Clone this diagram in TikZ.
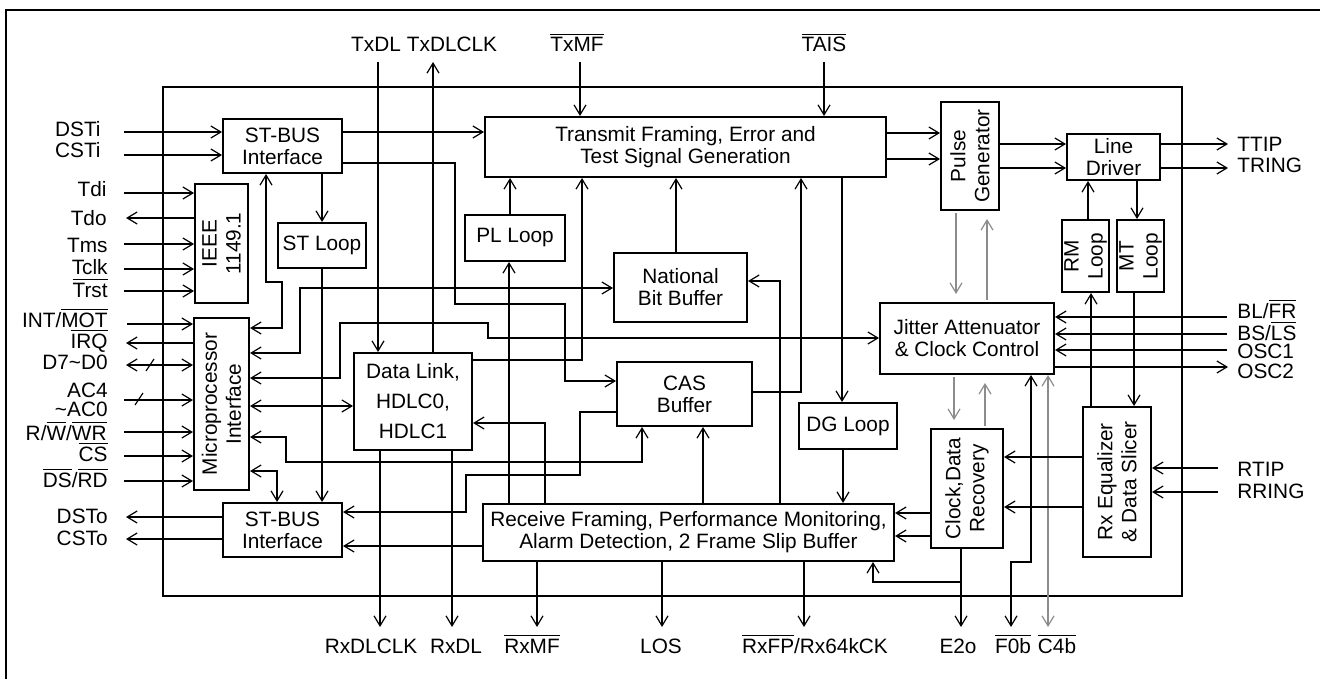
\documentclass[tikz,border=0pt]{standalone}
\usepackage{fontspec}
\setmainfont{Liberation Sans}
\usepackage{xcolor}
\definecolor{ink}{HTML}{000000}
\definecolor{mgray}{HTML}{8C8C8C}
\usetikzlibrary{arrows.meta}
\newcommand{\ovl}[1]{$\overline{\mbox{#1}}$}
\tikzset{
    block/.style = {rectangle, draw=ink, line width=1pt, inner sep=0pt, align=center,
                    font=\fontsize{10.4}{11}\selectfont},
    vtext/.style = {rotate=90, align=center, inner sep=0pt,
                    font=\fontsize{10.4}{12}\selectfont},
    pin/.style = {inner sep=0pt, font=\fontsize{10.4}{11}\selectfont},
    arrow/.style = {-{Straight Barb[length=5pt,width=6pt,line width=0.6pt]}, line width=1pt, color=ink},
    biarrow/.style = {{Straight Barb[length=5pt,width=6pt,line width=0.6pt]}-{Straight Barb[length=5pt,width=6pt,line width=0.6pt]},
                      line width=1pt, color=ink},
    grayarrow/.style = {-{Straight Barb[length=5pt,width=6pt,line width=0.6pt]}, line width=0.8pt,
                        color=mgray, shorten >=4pt, shorten <=1pt},
    wire/.style = {line width=1pt, color=ink},
}

\begin{document}
\begin{tikzpicture}[x=0.5pt, y=-0.5pt]
    \useasboundingbox (0,0) rectangle (1320,679);
    \draw[wire] (6,679) -- (6,10) -- (1320,10);
    \draw[wire] (163,87) rectangle (1182,596);

    % blocks
    \node[block, minimum width=59.5pt, minimum height=27pt] (stbT) at (282.5,146) {ST-BUS\\Interface};
    \node[block, minimum width=26.5pt, minimum height=59.5pt, label={[vtext]center:{IEEE\\1149.1}}] (ieee) at (221.5,243.5) {};
    \node[block, minimum width=27.5pt, minimum height=86pt, label={[vtext]center:{Microprocessor\\Interface}}] (mpi) at (221.5,404) {};
    \node[block, minimum width=59.5pt, minimum height=27pt] (stbB) at (282.5,530) {ST-BUS\\Interface};
    \node[block, minimum width=44pt, minimum height=22.5pt] (stl) at (322,245.5) {ST Loop};
    \node[block, minimum width=59pt, minimum height=48.5pt] (dl) at (413,401.5) {Data Link,\\[4pt]HDLC0,\\[4pt]HDLC1};
    \node[block, minimum width=200.5pt, minimum height=30pt] (txf) at (685.5,147) {Transmit Framing, Error and\\Test Signal Generation};
    \node[block, minimum width=50pt, minimum height=23pt] (pll) at (515,238) {PL Loop};
    \node[block, minimum width=66.5pt, minimum height=34.5pt] (nbb) at (680.5,287.5) {National\\Bit Buffer};
    \node[block, minimum width=67.5pt, minimum height=32pt] (cas) at (684.5,394) {CAS\\Buffer};
    \node[block, minimum width=49pt, minimum height=23pt] (dgl) at (848,426) {DG Loop};
    \node[block, minimum width=205.5pt, minimum height=28.5pt] (rxf) at (688.5,532.5) {Receive Framing, Performance Monitoring,\\Alarm Detection, 2 Frame Slip Buffer};
    \node[block, minimum width=29pt, minimum height=54pt, label={[vtext]center:{Pulse\\Generator}}] (pg) at (970,156) {};
    \node[block, minimum width=46.5pt, minimum height=23pt] (ld) at (1113.5,157) {Line\\Driver};
    \node[block, minimum width=23.5pt, minimum height=36pt, label={[vtext]center:{RM\\Loop}}] (rml) at (1085.5,256) {};
    \node[block, minimum width=23.5pt, minimum height=36pt, label={[vtext]center:{MT\\Loop}}] (mtl) at (1140.5,256) {};
    \node[block, minimum width=87pt, minimum height=35.5pt] (ja) at (967,338.5) {Jitter Attenuator\\\& Clock Control};
    \node[block, minimum width=36pt, minimum height=59.5pt, label={[vtext]center:{Clock,Data\\Recovery}}] (cdr) at (967,488.5) {};
    \node[block, minimum width=34pt, minimum height=75pt, label={[vtext]center:{Rx Equalizer\\\& Data Slicer}}] (rxe) at (1117,482) {};

    % top pins
    \coordinate (cTxDL) at (378,62);
    \coordinate (cTxDLCLK) at (433,62);
    \coordinate (cTxMF) at (580,62);
    \coordinate (cTAIS) at (824,62);
    \node[pin, anchor=base] (lTxDL) at (376,52) {TxDL};
    \node[pin, anchor=base] (lTxDLCLK) at (452,52) {TxDLCLK};
    \node[pin, anchor=base] (lTxMF) at (577,52) {\ovl{TxMF}};
    \node[pin, anchor=base] (lTAIS) at (824,52) {\ovl{TAIS}};
    \draw[arrow] (cTxDL) -- (dl.north -| cTxDL);
    \draw[arrow] (dl.north -| cTxDLCLK) -- (cTxDLCLK);
    \draw[arrow] (cTxMF) -- (txf.north -| cTxMF);
    \draw[arrow] (cTAIS) -- (txf.north -| cTAIS);

    % left pins
    \coordinate (cDSTi) at (124,132);
    \coordinate (cCSTi) at (124,155);
    \coordinate (cTdi) at (124,193);
    \coordinate (cTdo) at (126,218);
    \coordinate (cTms) at (124,244);
    \coordinate (cTclk) at (124,269);
    \coordinate (cTrst) at (124,291);
    \coordinate (cINT) at (127,324);
    \coordinate (cIRQ) at (126,343);
    \coordinate (cD) at (126,365);
    \coordinate (cAC) at (124,400);
    \coordinate (cRW) at (124,432);
    \coordinate (cCS) at (124,456);
    \coordinate (cDS) at (124,481);
    \coordinate (cDSTo) at (126,517);
    \coordinate (cCSTo) at (126,539);
    \node[pin, anchor=base east] (lDSTi) at (101,137) {DSTi};
    \node[pin, anchor=base east] (lCSTi) at (101,158) {CSTi};
    \node[pin, anchor=base east] (lTdi) at (107,197) {Tdi};
    \node[pin, anchor=base east] (lTdo) at (107,225) {Tdo};
    \node[pin, anchor=base east] (lTms) at (108,252) {Tms};
    \node[pin, anchor=base east] (lTclk) at (108,274) {Tclk};
    \node[pin, anchor=base east] (lTrst) at (108,297) {\ovl{Trst}};
    \node[pin, anchor=base east] (lINT) at (108,327) {INT/\ovl{MOT}};
    \node[pin, anchor=base east] (lIRQ) at (108,348) {\ovl{IRQ}};
    \node[pin, anchor=base east] (lD) at (108,369) {D7\textasciitilde D0};
    \node[pin, anchor=east, align=right, font=\fontsize{10.4}{9.6}\selectfont] (lAC) at (108,400) {AC4\\\textasciitilde AC0};
    \node[pin, anchor=base east] (lRW) at (107,440) {R/\ovl{W}/\ovl{WR}};
    \node[pin, anchor=base east] (lCS) at (108,461) {\ovl{CS}};
    \node[pin, anchor=base east] (lDS) at (108,487) {\ovl{DS}/\ovl{RD}};
    \node[pin, anchor=base east] (lDSTo) at (108,523) {DSTo};
    \node[pin, anchor=base east] (lCSTo) at (108,545) {CSTo};
    \draw[arrow] (cDSTi) -- (stbT.west |- cDSTi);
    \draw[arrow] (cCSTi) -- (stbT.west |- cCSTi);
    \draw[arrow] (cTdi) -- (ieee.west |- cTdi);
    \draw[arrow] (ieee.west |- cTdo) -- (cTdo);
    \draw[arrow] (cTms) -- (ieee.west |- cTms);
    \draw[arrow] (cTclk) -- (ieee.west |- cTclk);
    \draw[arrow] (cTrst) -- (ieee.west |- cTrst);
    \draw[arrow] (cINT) -- (mpi.west |- cINT);
    \draw[arrow] (mpi.west |- cIRQ) -- (cIRQ);
    \draw[biarrow] (cD) -- (mpi.west |- cD);
    \draw[arrow] (cAC) -- (mpi.west |- cAC);
    \draw[arrow] (cRW) -- (mpi.west |- cRW);
    \draw[arrow] (cCS) -- (mpi.west |- cCS);
    \draw[arrow] (cDS) -- (mpi.west |- cDS);
    \draw[arrow] (stbB.west |- cDSTo) -- (cDSTo);
    \draw[arrow] (stbB.west |- cCSTo) -- (cCSTo);
    \draw[line width=0.6pt] (146,371) -- (154,359);
    \draw[line width=0.6pt] (135,405) -- (143,393);

    % right pins
    \coordinate (cTTIP) at (1228,144);
    \coordinate (cTRING) at (1228,168);
    \coordinate (cBLFR) at (1227,317);
    \coordinate (cBSLS) at (1227,334);
    \coordinate (cOSC1) at (1227,350);
    \coordinate (cOSC2) at (1228,367);
    \coordinate (cRTIP) at (1218,468);
    \coordinate (cRRING) at (1218,492);
    \node[pin, anchor=base west] (lTTIP) at (1237,152) {TTIP};
    \node[pin, anchor=base west] (lTRING) at (1237,173) {TRING};
    \node[pin, anchor=base west] (lBLFR) at (1237,318) {BL/\ovl{FR}};
    \node[pin, anchor=base west] (lBSLS) at (1237,340) {BS/\ovl{LS}};
    \node[pin, anchor=base west] (lOSC1) at (1237,358) {OSC1};
    \node[pin, anchor=base west] (lOSC2) at (1237,378) {OSC2};
    \node[pin, anchor=base west] (lRTIP) at (1237,476) {RTIP};
    \node[pin, anchor=base west] (lRRING) at (1237,498) {RRING};
    \draw[arrow] (ld.east |- cTTIP) -- (cTTIP);
    \draw[arrow] (ld.east |- cTRING) -- (cTRING);
    \draw[arrow] (cBLFR) -- (ja.east |- cBLFR);
    \draw[arrow] (cBSLS) -- (ja.east |- cBSLS);
    \draw[arrow] (cOSC1) -- (ja.east |- cOSC1);
    \draw[arrow] (ja.east |- cOSC2) -- (cOSC2);
    \draw[arrow] (cRTIP) -- (rxe.east |- cRTIP);
    \draw[arrow] (cRRING) -- (rxe.east |- cRRING);

    % bottom pins
    \coordinate (cRxDLCLK) at (380,627);
    \coordinate (cRxDL) at (452,627);
    \coordinate (cRxMF) at (537,627);
    \coordinate (cLOS) at (662,627);
    \coordinate (cRxFP) at (804,627);
    \coordinate (cE2o) at (961,627);
    \coordinate (jE2o) at (961,582);
    \coordinate (cF0b) at (1011,627);
    \coordinate (cC4b) at (1048,627);
    \node[pin, anchor=base] (lRxDLCLK) at (371,653) {RxDLCLK};
    \node[pin, anchor=base] (lRxDL) at (456,653) {RxDL};
    \node[pin, anchor=base] (lRxMF) at (532,653) {\ovl{RxMF}};
    \node[pin, anchor=base] (lLOS) at (661,653) {LOS};
    \node[pin, anchor=base] (lRxFP) at (815,653) {\ovl{RxFP}/Rx64kCK};
    \node[pin, anchor=base] (lE2o) at (958,653) {E2o};
    \node[pin, anchor=base] (lF0b) at (1013,653) {\ovl{F0b}};
    \node[pin, anchor=base] (lC4b) at (1057,653) {\ovl{C4b}};
    \draw[arrow] (dl.south -| cRxDLCLK) -- (cRxDLCLK);
    \draw[arrow] (dl.south -| cRxDL) -- (cRxDL);
    \draw[arrow] (rxf.south -| cRxMF) -- (cRxMF);
    \draw[arrow] (rxf.south -| cLOS) -- (cLOS);
    \draw[arrow] (rxf.south -| cRxFP) -- (cRxFP);
    \draw[arrow] (cdr.south -| cE2o) -- (cE2o);
    \draw[arrow] (jE2o) -| (rxf.south -| 873,0);
    \draw[biarrow] (ja.south -| 1031,0) |- (1011,562) -- (cF0b);
    \draw[biarrow, line width=0.6pt, color=mgray] (ja.south -| cC4b) -- (cC4b);

    % internal connections
    \draw[arrow] (stbT.east |- 0,132) -- (txf.west |- 0,132);
    \draw[arrow] (stbT.east |- 0,163) -| (455,304) -| (565,381) -- (cas.west |- 0,381);
    \draw[arrow] (stbT.south -| stl.north) -- (stl.north);
    \draw[arrow] (stl.south) -- (stl.south |- stbB.north);
    \draw[biarrow] (mpi.east |- 0,328) -| (282,282) -| (stbT.south -| 266,0);
    \draw[biarrow] (mpi.east |- 0,353) -| (300,288) -- (nbb.west |- 0,288);
    \draw[biarrow] (mpi.east |- 0,378) -| (340,323) -| (488,338) -- (ja.west |- 0,338);
    \draw[biarrow, line width=0.6pt] (mpi.east |- 0,406) -- (dl.west |- 0,406);
    \draw[biarrow] (mpi.east |- 0,437) -| (286,462) -| (cas.south -| 642,0);
    \draw[biarrow] (mpi.east |- 0,471) -| (stbB.north -| 277,0);
    \draw[arrow] (dl.east |- 0,360) -| (txf.south -| 582,0);
    \draw[arrow] (rxf.north -| 545,0) |- (dl.east |- 0,423);
    \draw[arrow] (pll.north -| 510,0) -- (txf.south -| 510,0);
    \draw[arrow] (rxf.north -| 509,0) -- (pll.south -| 509,0);
    \draw[arrow] (nbb.north -| 676,0) -- (txf.south -| 676,0);
    \draw[arrow] (rxf.north -| 780,0) |- (nbb.east |- 0,281);
    \draw[arrow] (cas.east |- 0,392) -| (txf.south -| 801,0);
    \draw[arrow] (cas.west |- 0,412) -| (580,475) -| (466,512) -- (stbB.east |- 0,512);
    \draw[arrow] (rxf.west |- 0,546) -- (stbB.east |- 0,546);
    \draw[arrow] (rxf.north -| 703,0) -- (cas.south -| 703,0);
    \draw[arrow] (txf.south -| 842,0) -- (dgl.north -| 842,0);
    \draw[arrow] (dgl.south -| 843,0) -- (rxf.north -| 843,0);
    \draw[arrow] (txf.east |- 0,133) -- (pg.west |- 0,133);
    \draw[arrow] (txf.east |- 0,159) -- (pg.west |- 0,159);
    \draw[arrow] (pg.east |- 0,144) -- (ld.west |- 0,144);
    \draw[arrow] (pg.east |- 0,168) -- (ld.west |- 0,168);
    \draw[arrow] (rml.north -| 1088,0) -- (ld.south -| 1088,0);
    \draw[arrow] (ld.south -| 1137,0) -- (mtl.north -| 1137,0);
    \draw[arrow] (rxe.north -| 1091,0) -- (rml.south -| 1091,0);
    \draw[arrow] (mtl.south -| 1134,0) -- (rxe.north -| 1134,0);
    \draw[grayarrow] (pg.south -| 956,0) -- (ja.north -| 956,0);
    \draw[grayarrow] (ja.north -| 987,0) -- (pg.south -| 987,0);
    \draw[grayarrow] (ja.south -| 954,0) -- (cdr.north -| 954,0);
    \draw[grayarrow] (cdr.north -| 985,0) -- (ja.south -| 985,0);
    \draw[arrow] (rxe.west |- 0,457) -- (cdr.east |- 0,457);
    \draw[arrow] (rxe.west |- 0,507) -- (cdr.east |- 0,507);
    \draw[arrow] (cdr.west |- 0,513) -- (rxf.east |- 0,513);
    \draw[arrow] (cdr.west |- 0,536) -- (rxf.east |- 0,536);
\end{tikzpicture}
\end{document}
